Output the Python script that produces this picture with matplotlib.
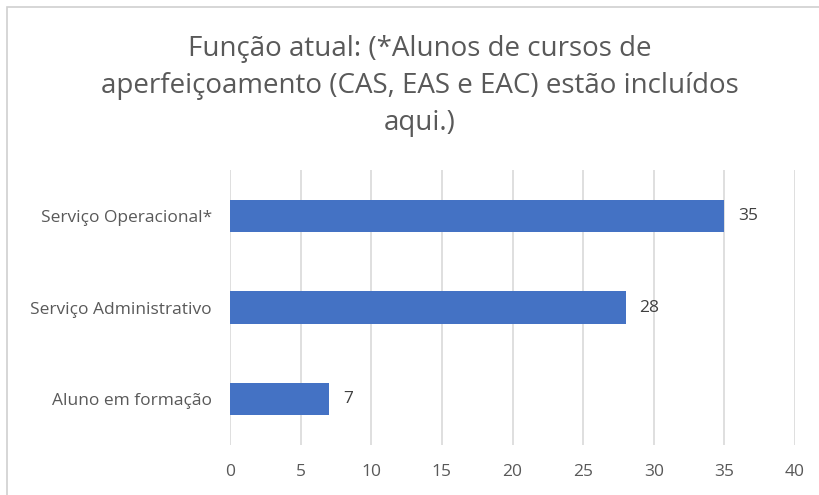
import matplotlib
matplotlib.use("Agg")
import matplotlib.pyplot as plt
from matplotlib.patches import Rectangle

categories = ["Aluno em formação", "Serviço Administrativo", "Serviço Operacional*"]
values = [7, 28, 35]
xticks = [0, 5, 10, 15, 20, 25, 30, 35, 40]
title = "Função atual: (*Alunos de cursos de\naperfeiçoamento (CAS, EAS e EAC) estão incluídos\naqui.)"

plt.rcParams['font.family'] = ['Open Sans', 'DejaVu Sans']
W, H = 819, 495
fig = plt.figure(figsize=(W/100, H/100), dpi=100)
fig.patch.set_facecolor('white')

# chart border (light gray, left and top visible)
fig.add_artist(Rectangle((7/W, -0.05), 1.1, (H-7)/H + 0.05, transform=fig.transFigure,
                         fill=False, edgecolor='#D0D0D0', linewidth=1.2))

ax = fig.add_axes([230/W, 1-445/H, (795-230)/W, (445-170)/H])
y = range(len(categories))
bars = ax.barh(list(y), values, height=0.35, color='#4472C4', zorder=3)
ax.set_xlim(0, 40)
ax.set_ylim(-0.5, 2.5)
ax.set_xticks(xticks)
ax.set_yticks(list(y))
ax.set_yticklabels(categories)
ax.grid(axis='x', color='#D9D9D9', linewidth=1.2, zorder=0)
for s in ax.spines.values():
    s.set_visible(False)
ax.tick_params(axis='both', length=0, colors='#595959', labelsize=12.5)
ax.tick_params(axis='x', pad=14)
ax.tick_params(axis='y', pad=13)
for yy, v in zip(y, values):
    ax.text(v + 1.0, yy, str(v), va='center', ha='left', color='#404040', fontsize=12.5)

fig.text(420/W, 1-86/H, title, ha='center', va='center', fontsize=20,
         color='#595959', linespacing=1.42)

fig.savefig("out.png", dpi=100, facecolor='white')
